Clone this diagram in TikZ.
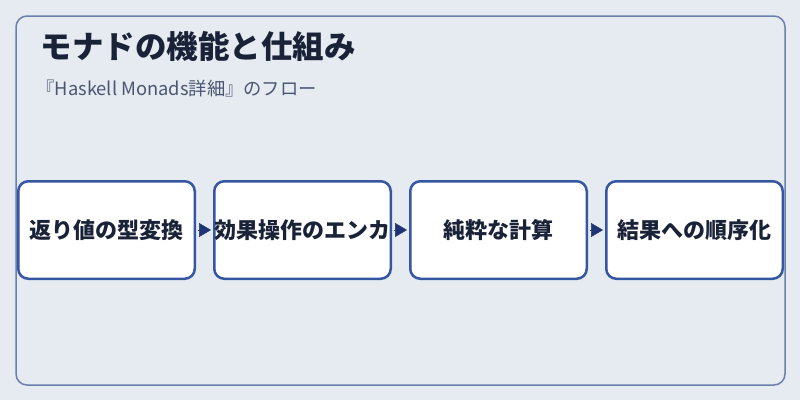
\documentclass[tikz,border=0pt]{standalone}
\usepackage{fontspec}
\setmainfont{Noto Sans CJK JP}
\usetikzlibrary{arrows.meta,positioning,calc}

\definecolor{pagebg}{HTML}{E6EBF1}
\definecolor{framecol}{HTML}{6A7FAB}
\definecolor{boxcol}{HTML}{3556A0}
\definecolor{arrowcol}{HTML}{1F3472}
\definecolor{titlecol}{HTML}{1A2238}
\definecolor{subcol}{HTML}{4A5670}

\tikzset{
  stepbox/.style={draw=boxcol, line width=2.5pt, fill=white, rounded corners=10pt,
    minimum width=176.5pt, minimum height=97.5pt, text width=176.5pt, align=center, inner sep=0pt,
    font=\bfseries\fontsize{22}{26}\selectfont, text=titlecol},
  flow/.style={-{Triangle[length=12pt,width=14pt]}, color=arrowcol, line width=0.5pt,
    shorten >=2pt, shorten <=1.5pt}
}

\begin{document}
\begin{tikzpicture}[x=1pt,y=-1pt]

  \fill[pagebg] (0,0) rectangle (800,400);
  \useasboundingbox (0,0) rectangle (800,400);
  \draw[framecol, line width=1.5pt, rounded corners=11pt] (16,16) rectangle (785,385);

  \node[anchor=west, text=titlecol, font=\bfseries\fontsize{31.5}{36}\selectfont] (title) at (37,46) {モナドの機能と仕組み};
  \node[anchor=west, text=subcol, font=\fontsize{18.3}{21}\selectfont] (subtitle) at (33,89) {『Haskell Monads詳細』のフロー};

  \node[stepbox] (s1) at (106.5,230) {返り値の型変換};
  \node[stepbox, right=17pt of s1] (s2) {効果操作のエンカ};
  \node[stepbox, right=17pt of s2] (s3) {純粋な計算};
  \node[stepbox, right=17pt of s3] (s4) {結果への順序化};

  \foreach \i/\j in {1/2,2/3,3/4}{
    \draw[flow] (s\i.east) -- (s\j.west);
  }

\end{tikzpicture}
\end{document}
